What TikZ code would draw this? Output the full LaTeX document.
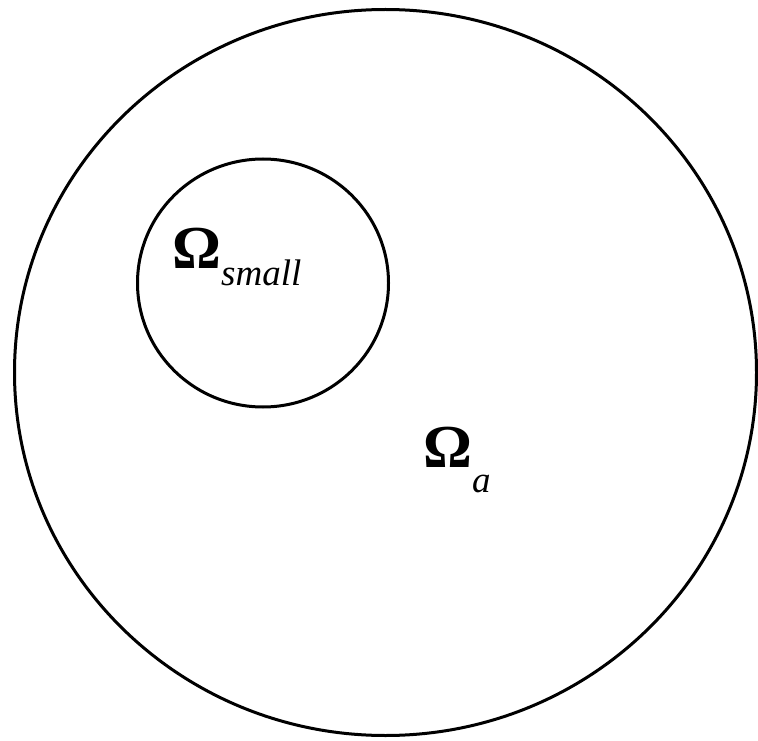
\documentclass[tikz,border=0pt]{standalone}
\usepackage{fontspec}
\setmainfont{Liberation Serif}
\tikzset{
  region/.style={draw=black, line width=3pt},
  bigsym/.style={anchor=base west, inner sep=0pt, font=\fontsize{61}{61}\selectfont\bfseries},
  subsym/.style={anchor=base west, inner sep=0pt, font=\fontsize{37}{37}\selectfont\itshape}
}
\begin{document}
\begin{tikzpicture}[x=1pt,y=-1pt]
\useasboundingbox (0,0) rectangle (758,741);
\draw[region] (385.5,372.5) ellipse [x radius=371, y radius=363];
\draw[region] (263,283) ellipse [x radius=125.5, y radius=124];
\node[bigsym] (om1) at (172,268) {Ω};
\node[subsym] (sub1) at (221,285) {small};
\node[bigsym] (om2) at (423,467) {Ω};
\node[subsym] (sub2) at (472,492) {a};
\end{tikzpicture}
\end{document}
